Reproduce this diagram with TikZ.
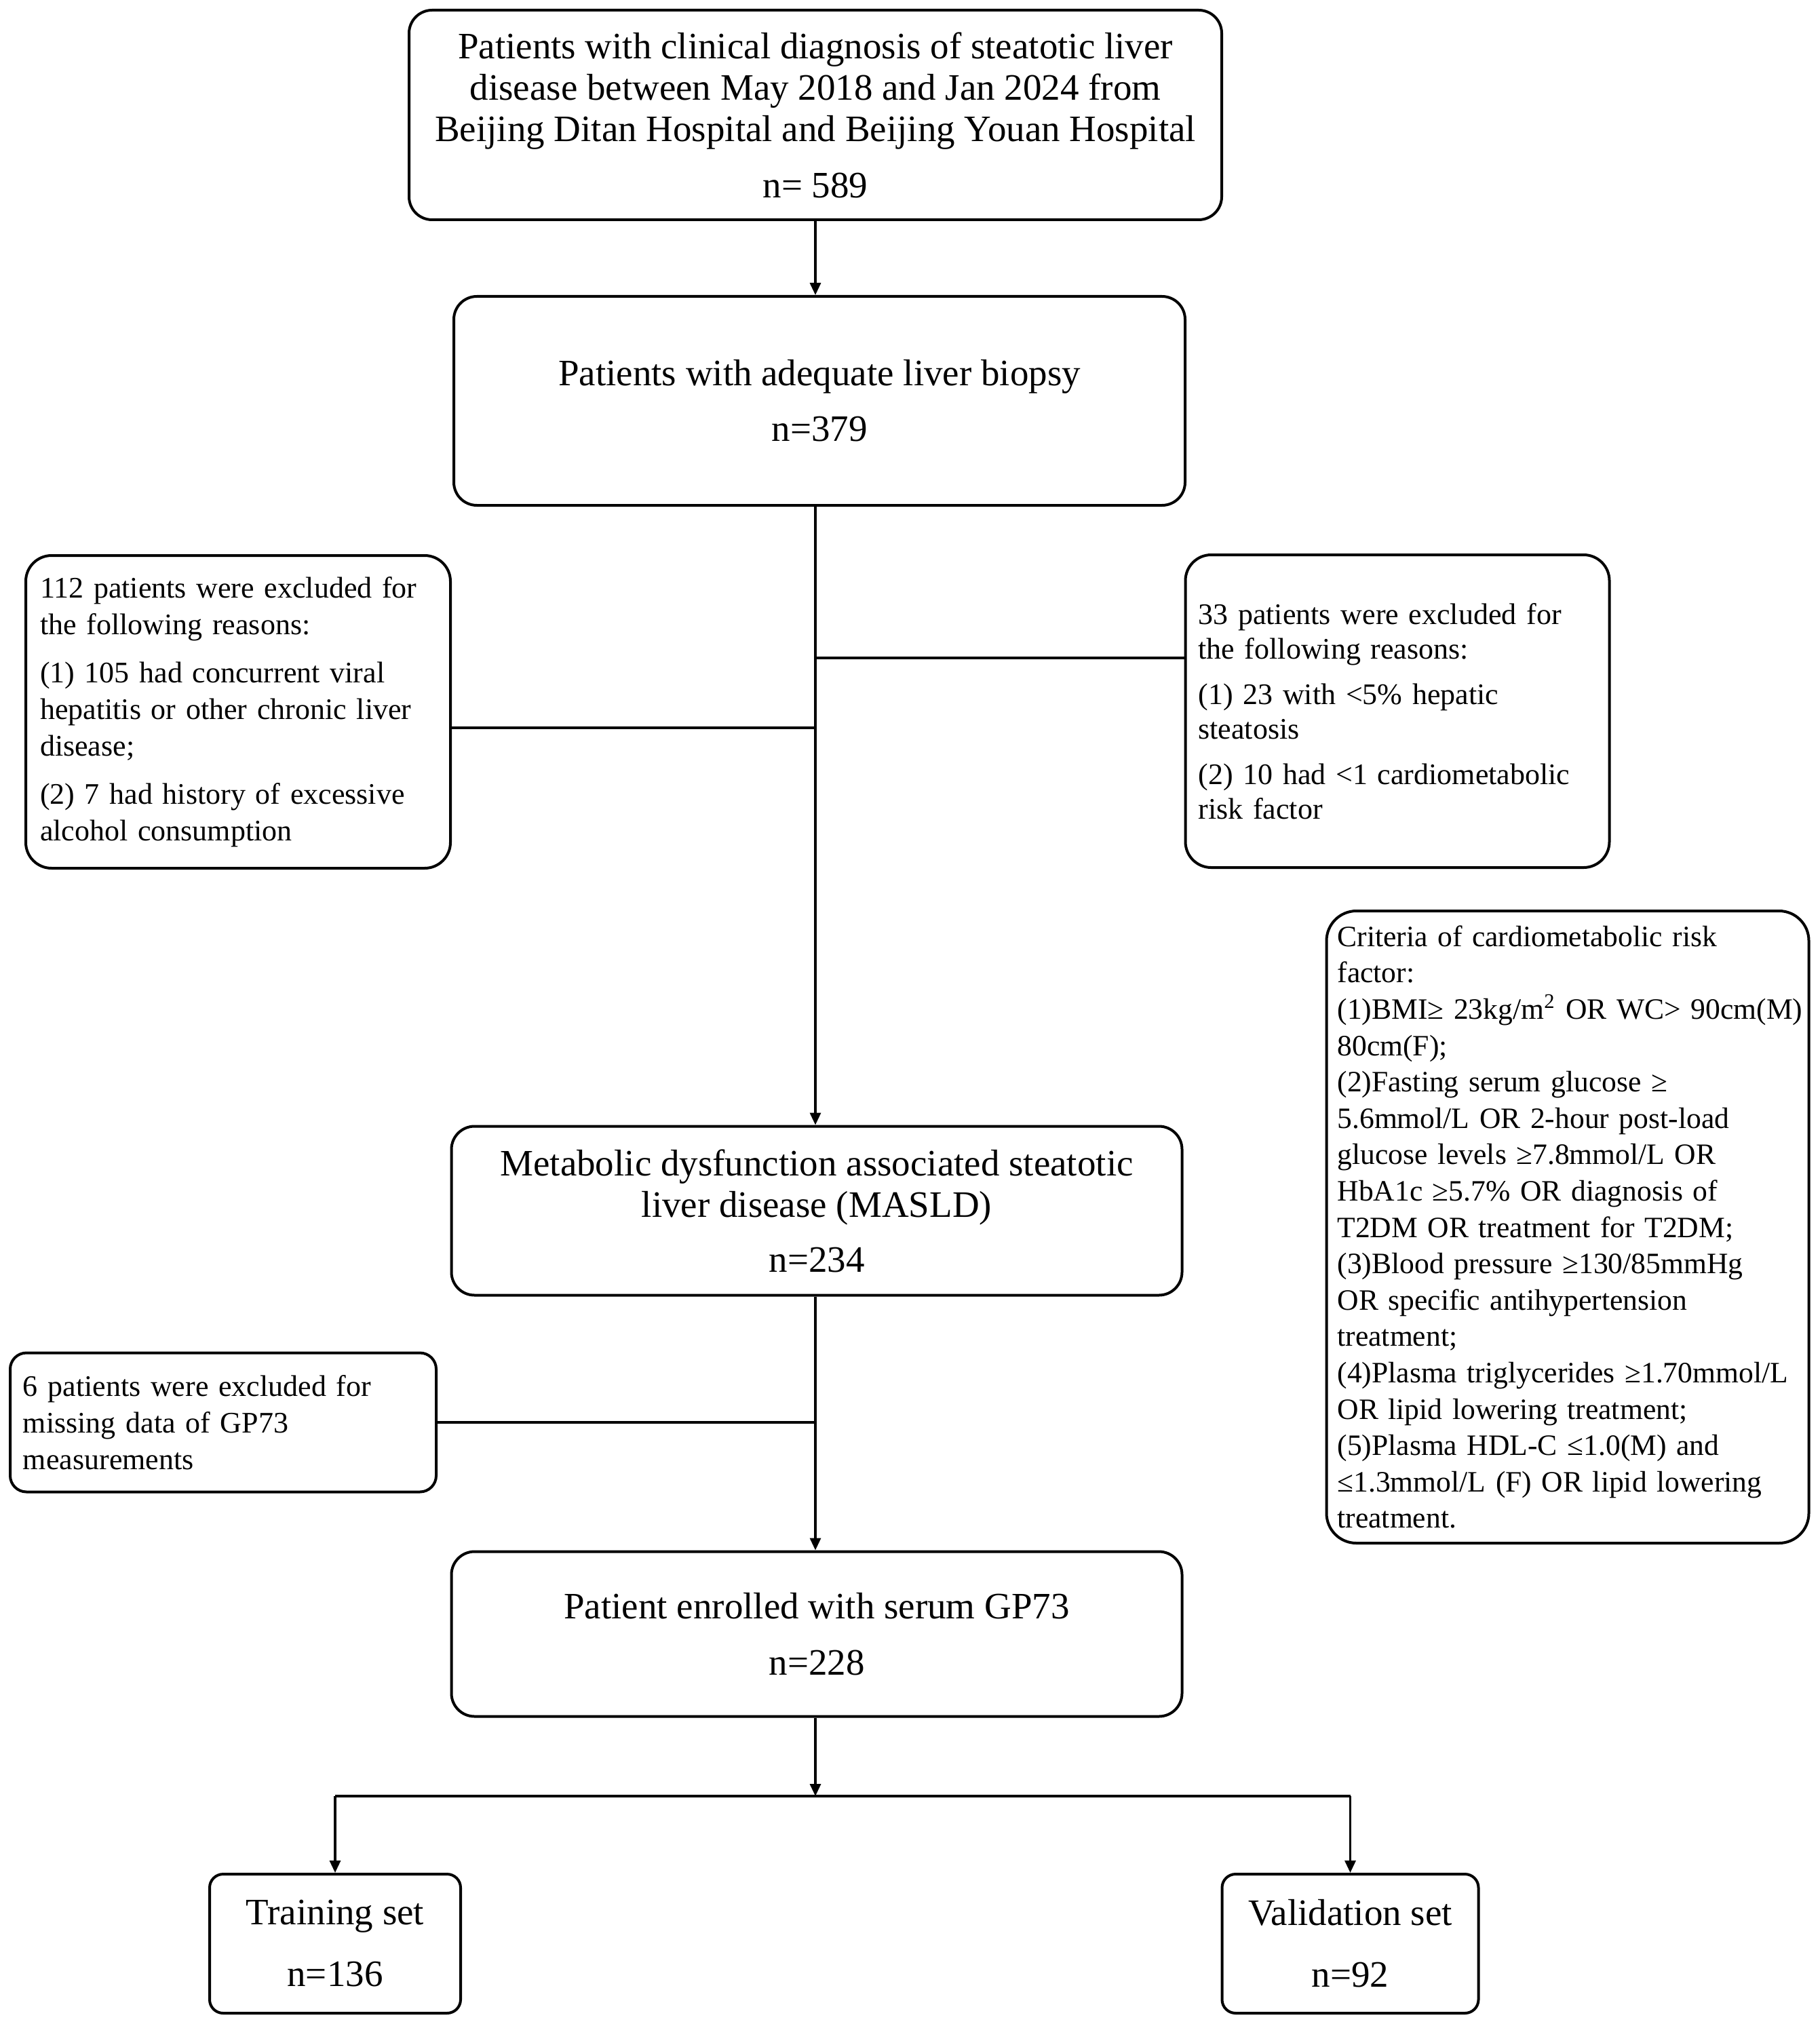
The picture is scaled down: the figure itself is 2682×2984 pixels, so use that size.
\documentclass[tikz,border=0pt]{standalone}
\usepackage{fontspec}
\setmainfont{Liberation Serif}
\usetikzlibrary{arrows.meta}
\begin{document}
\begin{tikzpicture}[x=0.25pt,y=-0.25pt,
  box/.style={draw, line width=1pt, rounded corners=8.5pt, align=center, inner sep=0pt,
    font=\fontsize{13.75}{15.25}\selectfont},
  side/.style={draw, line width=1pt, rounded corners=9.5pt, align=left, inner ysep=0pt,
    font=\fontsize{11}{13.5}\selectfont},
  link/.style={line width=0.8pt},
  arr/.style={link, -{Triangle[length=4.5pt,width=4pt]}}]
\useasboundingbox (0,0) rectangle (2682,2984);

% main column
\node[box, minimum width=299.5pt, minimum height=77.25pt] (top) at (1202,169.5)
  {Patients with clinical diagnosis of steatotic liver\\ disease between May 2018 and Jan 2024 from\\ Beijing Ditan Hospital and Beijing Youan Hospital\\[5.5pt] n= 589};
\node[box, minimum width=269.5pt, minimum height=77pt] (bio) at (1208,591)
  {Patients with adequate liver biopsy\\[5.25pt] n=379};
\node[box, minimum width=269.25pt, minimum height=62.25pt] (masld) at (1204,1785)
  {Metabolic dysfunction associated steatotic\\ liver disease (MASLD)\\[5pt] n=234};
\node[box, minimum width=269.25pt, minimum height=60.75pt] (enr) at (1204,2409)
  {Patient enrolled with serum GP73\\[5.5pt] n=228};
\node[box, rounded corners=5pt, minimum width=92.5pt, minimum height=51.25pt] (train) at (494,2865.5)
  {Training set\\[7.5pt] n=136};
\node[box, rounded corners=5pt, minimum width=94.5pt, minimum height=51.25pt] (valid) at (1990.5,2865.5)
  {Validation set\\[7.5pt] n=92};

% side boxes
\node[side, minimum width=156.5pt, minimum height=115.25pt, inner xsep=5.25pt, text width=146pt] (exL) at (351,1049.5)
  {112 patients were excluded for\\ the following reasons:\\[4.25pt] (1) 105 had concurrent viral\\ hepatitis or other chronic liver\\ disease;\\[4.25pt] (2) 7 had history of excessive\\ alcohol consumption};
\node[side, font=\fontsize{11}{12.75}\selectfont, minimum width=156.25pt, minimum height=115.25pt, inner xsep=4.75pt, text width=146.75pt] (exR) at (2060,1048.5)
  {33 patients were excluded for\\ the following reasons:\\[4pt] (1) 23 with <5\% hepatic\\ steatosis\\[4pt] (2) 10 had <1 cardiometabolic\\ risk factor};
\node[side, rounded corners=11pt, font=\fontsize{10.9}{13.4}\selectfont, minimum width=177.75pt, minimum height=233pt, inner xsep=4pt, text width=169.75pt] (crit) at (2311,1809)
  {\mbox{Criteria of cardiometabolic risk}\\
   \mbox{factor:}\\
   \mbox{(1)BMI≥ 23kg/m\textsuperscript{2} OR WC> 90cm(M)}\\
   \mbox{80cm(F);}\\
   \mbox{(2)Fasting serum glucose ≥}\\
   \mbox{5.6mmol/L OR 2-hour post-load}\\
   \mbox{glucose levels ≥7.8mmol/L OR}\\
   \mbox{HbA1c ≥5.7\% OR diagnosis of}\\
   \mbox{T2DM OR treatment for T2DM;}\\
   \mbox{(3)Blood pressure ≥130/85mmHg}\\
   \mbox{OR specific antihypertension}\\
   \mbox{treatment;}\\
   \mbox{(4)Plasma triglycerides ≥1.70mmol/L}\\
   \mbox{OR lipid lowering treatment;}\\
   \mbox{(5)Plasma HDL-C ≤1.0(M) and}\\
   \mbox{≤1.3mmol/L (F) OR lipid lowering}\\
   \mbox{treatment.}};
\node[side, rounded corners=6pt, minimum width=157pt, minimum height=51.25pt, inner xsep=4.75pt, text width=147.5pt] (six) at (329,2097)
  {6 patients were excluded for\\ missing data of GP73\\ measurements};

% connectors
\coordinate (jr) at (1202,970);
\coordinate (jl) at (1202,1073);
\coordinate (j6) at (1202,2097);
\coordinate (split) at (1202,2648);
\draw[arr] (top.south) -- (top.south |- bio.north);
\draw[arr] (bio.south -| top.south) -- (masld.north -| top.south);
\draw[link] (jr) -- (jr -| exR.west);
\draw[link] (jl) -- (jl -| exL.east);
\draw[arr] (masld.south -| top.south) -- (enr.north -| top.south);
\draw[link] (j6) -- (j6 -| six.east);
\draw[arr] (enr.south -| top.south) -- (split);
\draw[link, line width=1pt] (split -| train.north) -- (split -| valid.north);
\draw[arr] (split -| train.north) -- (train.north);
\draw[arr] (split -| valid.north) -- (valid.north);
\end{tikzpicture}
\end{document}
